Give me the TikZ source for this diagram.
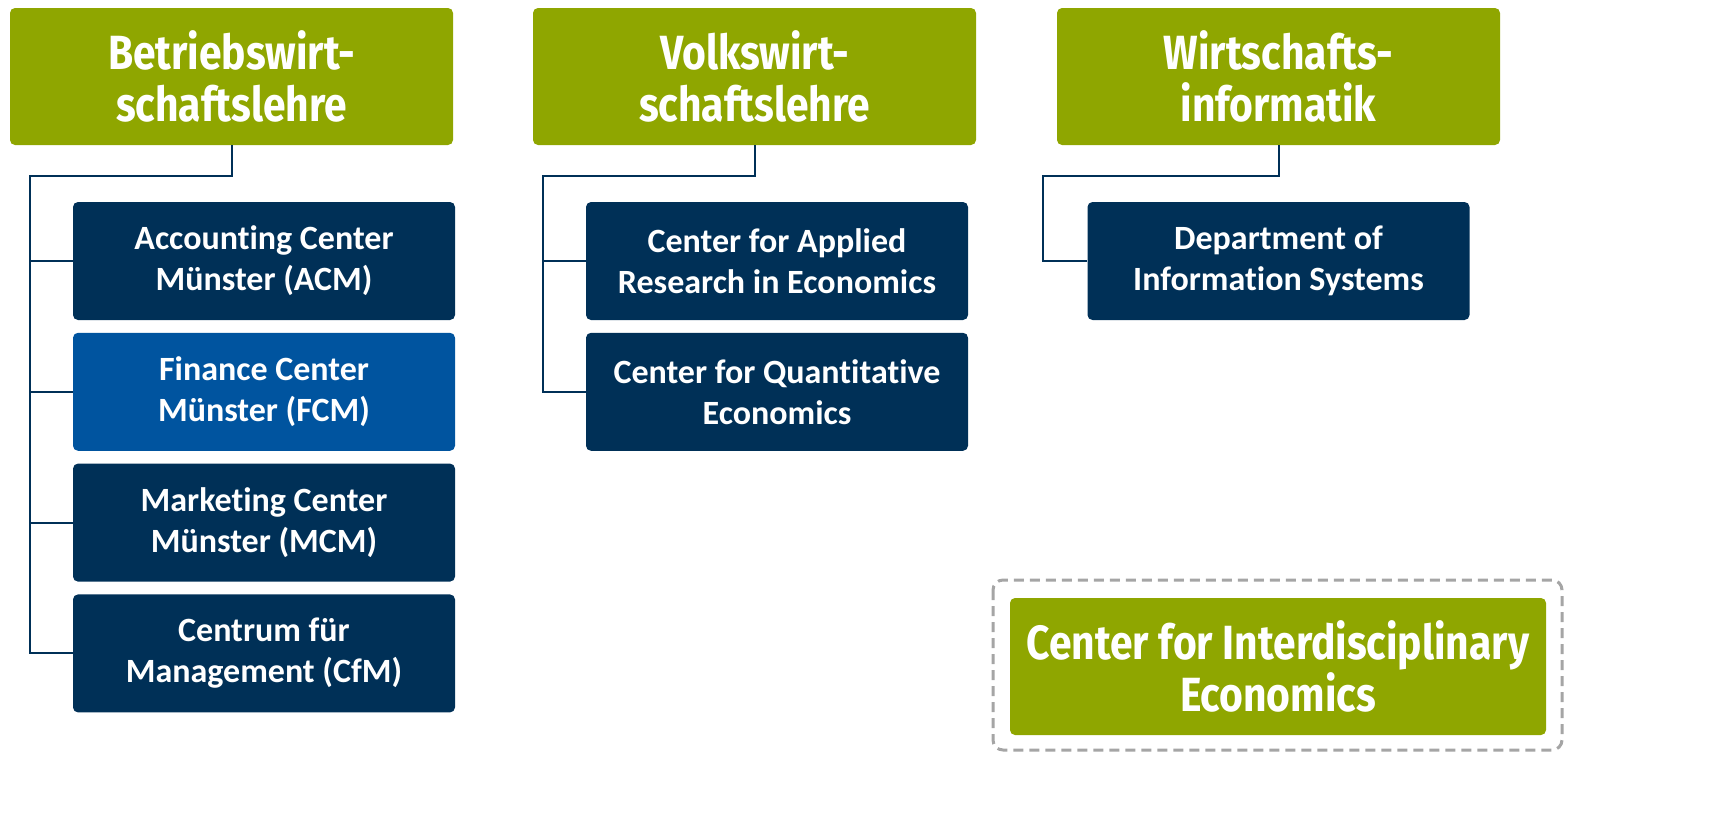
\documentclass[tikz,border=0pt]{standalone}
\usepackage{fontspec}
\usepackage{tikz}
\usetikzlibrary{positioning}
\newfontfamily\headfont[FakeStretch=0.85]{Fira Sans}
\newfontfamily\boxfont[Ligatures=NoCommon]{Carlito}
\definecolor{wwugreen}{RGB}{143,166,0}
\definecolor{wwublue}{RGB}{0,48,87}
\definecolor{wwulight}{RGB}{0,84,159}
\definecolor{dashgray}{RGB}{165,165,165}
\tikzstyle{faculty}=[rounded corners=2.5pt, fill=wwugreen, text=white, align=center,
  minimum width=221.5pt, minimum height=68.5pt, inner sep=0pt,
  font=\headfont\bfseries\fontsize{24}{26}\selectfont]
\tikzstyle{center}=[rounded corners=2.5pt, fill=wwublue, text=white, align=center,
  minimum width=191pt, minimum height=59pt, inner sep=0pt,
  font=\boxfont\bfseries\fontsize{17}{20.5}\selectfont]
\tikzstyle{link}=[draw=wwublue, line width=1pt]

\begin{document}
\begin{tikzpicture}[x=0.5pt, y=-0.5pt]
        \useasboundingbox (0,0) rectangle (1711,819);

        % faculties
        \node[faculty] (bwl) at (231.5,76.5) {Betriebswirt-\\schaftslehre};
        \node[faculty] (vwl) at (754.5,76.5) {Volkswirt-\\schaftslehre};
        \node[faculty] (wi)  at (1278.5,76.5) {Wirtschafts-\\informatik};

        % centers
        \node[center] (acm) at (264,261)  {Accounting Center\\Münster (ACM)};
        \node[center, fill=wwulight] (fcm) [below=6pt of acm] {Finance Center\\Münster (FCM)};
        \node[center] (mcm) [below=6pt of fcm] {Marketing Center\\Münster (MCM)};
        \node[center] (cfm) [below=6pt of mcm] {Centrum für\\Management (CfM)};

        \node[center] (care) at (777,261) {Center for Applied\\Research in Economics};
        \node[center] (cqe) [below=6pt of care] {Center for Quantitative\\Economics};

        \node[center] (dis) at (1278.5,261) {Department of\\Information Systems};

        % interdisciplinary
        \draw[dashgray, dash pattern=on 5pt off 3pt, line width=1.5pt, rounded corners=5pt] (993,580) rectangle (1562,750);
        \node[faculty, minimum width=268pt] (cie) at (1278,666.5) {Center for Interdisciplinary\\Economics};

        % links
        \coordinate (bwlbus) at (30,176);
        \coordinate (vwlbus) at (543,176);
        \coordinate (wibus)  at (1043,176);

        \path[link] (bwl.south) |- (bwlbus) |- (cfm.west);
        \foreach \n in {acm,fcm,mcm}
          \path[link] (bwlbus |- \n.west) -- (\n.west);
        \path[link] (vwl.south) |- (vwlbus) |- (cqe.west);
        \path[link] (vwlbus |- care.west) -- (care.west);
        \path[link] (wi.south) |- (wibus) |- (dis.west);
      \end{tikzpicture}
\end{document}
